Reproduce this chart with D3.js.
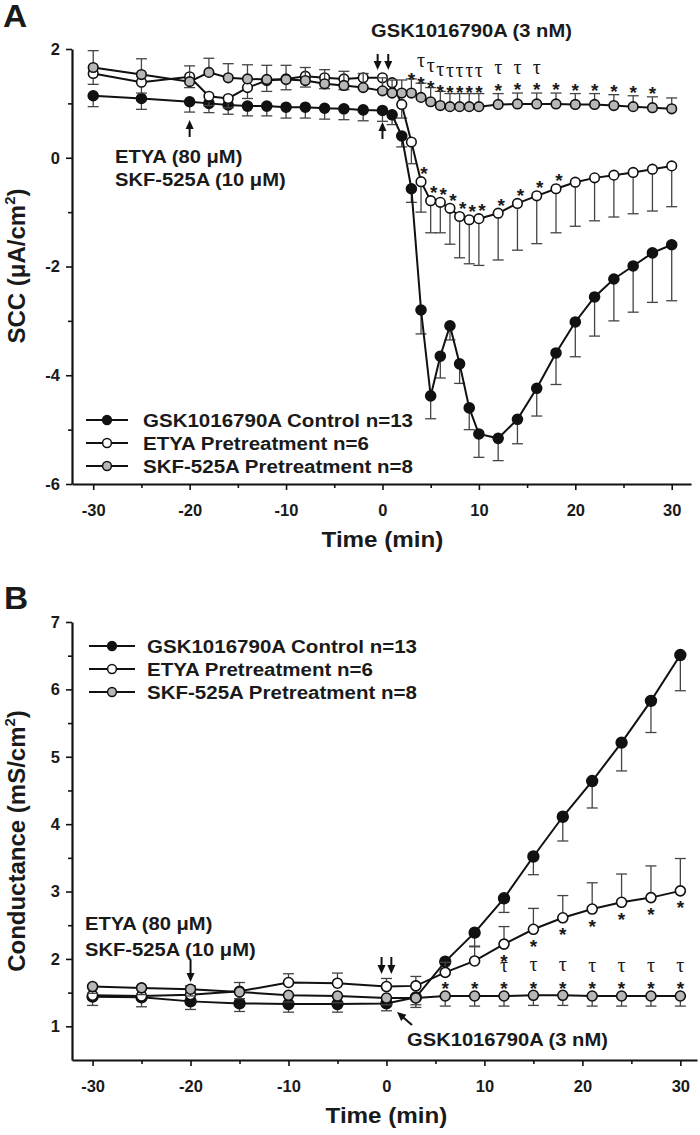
<!DOCTYPE html>
<html>
<head>
<meta charset="utf-8">
<script src="https://cdn.jsdelivr.net/npm/d3@7"></script>
<style>
  body { margin: 0; background: #fff; }
  text { font-family: "Liberation Sans", Arial, sans-serif; font-weight: bold; fill: #1a1a1a; }
</style>
</head>
<body>
<script>
// Panel A - short circuit current (uA/cm2)
var timeA = [-30,-25,-20,-18,-16,-14,-12,-10,-8,-6,-4,-2,0,1,2,3,4,5,6,7,8,9,10,12,14,16,18,20,22,24,26,28,30];
var sccControl    = [1.14,1.09,1.03,1.00,0.97,0.95,0.95,0.93,0.93,0.91,0.90,0.88,0.87,0.79,0.40,-0.57,-2.80,-4.38,-3.65,-3.09,-3.79,-4.60,-5.08,-5.16,-4.81,-4.24,-3.59,-3.02,-2.56,-2.23,-1.99,-1.75,-1.60];
var sccControlErr = [0.20,0.20,0.19,0.17,0.17,0.18,0.18,0.20,0.20,0.20,0.20,0.20,0.20,0.18,0.20,0.25,0.44,0.42,0.40,0.26,0.36,0.40,0.43,0.41,0.45,0.51,0.58,0.64,0.72,0.77,0.85,0.91,1.03];
var sccEtya       = [1.55,1.39,1.49,1.13,1.09,1.29,1.42,1.45,1.50,1.47,1.45,1.47,1.47,1.38,0.98,0.29,-0.44,-0.79,-0.82,-0.93,-1.08,-1.14,-1.12,-1.02,-0.84,-0.70,-0.57,-0.45,-0.37,-0.32,-0.27,-0.21,-0.15];
var sccEtyaErr    = [0.20,0.20,0.20,0.17,0.17,0.20,0.20,0.20,0.20,0.20,0.20,0.20,0.20,0.20,0.25,0.40,0.56,0.59,0.56,0.66,0.76,0.81,0.86,0.86,0.86,0.88,0.81,0.81,0.79,0.77,0.76,0.77,0.75];
var sccSkf        = [1.66,1.53,1.40,1.57,1.47,1.45,1.44,1.44,1.42,1.36,1.33,1.29,1.23,1.19,1.19,1.19,1.11,1.03,0.96,0.94,0.94,0.94,0.94,0.98,0.99,0.99,0.99,0.98,0.98,0.96,0.94,0.92,0.90];
var sccSkfErr     = [0.31,0.29,0.29,0.26,0.26,0.26,0.26,0.26,0.24,0.26,0.26,0.26,0.24,0.24,0.24,0.26,0.26,0.26,0.26,0.24,0.24,0.24,0.24,0.20,0.20,0.20,0.20,0.20,0.20,0.20,0.20,0.20,0.20];
var starSkfA  = [3,4,5,6,7,8,9,10,12,14,16,18,20,22,24,26,28];
var tauSkfA   = [4,5,6,7,8,9,10,12,14,16];
var starEtyaA = [4,5,6,7,8,9,10,12,14,16,18];

// Panel B - conductance (mS/cm2)
var timeB = [-30,-25,-20,-15,-10,-5,0,3,6,9,12,15,18,21,24,27,30];
var gtControl    = [1.44,1.43,1.37,1.34,1.33,1.33,1.34,1.43,1.96,2.39,2.90,3.52,4.11,4.64,5.21,5.83,6.51];
var gtControlErr = [0.13,0.14,0.12,0.12,0.12,0.12,0.11,0.15,0.15,0.20,0.21,0.27,0.36,0.40,0.42,0.47,0.53];
var gtEtya       = [1.46,1.45,1.47,1.52,1.65,1.64,1.59,1.60,1.80,1.97,2.22,2.44,2.61,2.74,2.84,2.91,3.01];
var gtEtyaErr    = [0.13,0.13,0.13,0.13,0.13,0.15,0.12,0.14,0.15,0.21,0.26,0.31,0.33,0.39,0.42,0.47,0.48];
var gtSkf        = [1.59,1.57,1.55,1.51,1.46,1.45,1.42,1.42,1.45,1.45,1.45,1.46,1.46,1.45,1.45,1.45,1.45];
var gtSkfErr     = [0.10,0.10,0.10,0.10,0.10,0.10,0.10,0.10,0.15,0.15,0.15,0.15,0.15,0.15,0.15,0.15,0.15];
var starSkfB  = [6,9,12,15,18,21,24,27,30];
var tauSkfB   = [12,15,18,21,24,27,30];
var starEtyaB = [12,15,18,21,24,27,30];

var legendNames = ["GSK1016790A Control n=13", "ETYA Pretreatment n=6", "SKF-525A Pretreatment n=8"];
var xMajor = [-30,-20,-10,0,10,20,30];
var xMinor = [-25,-15,-5,5,15,25];
var yMajorA = [2,0,-2,-4,-6], yMinorA = [1,-1,-3,-5];
var yMajorB = [1,2,3,4,5,6,7], yMinorB = [1.5,2.5,3.5,4.5,5.5,6.5];

var fills = ["#111", "#fff", "#b7b7b7"];

var svg = d3.select("body").append("svg")
    .attr("width", 700)
    .attr("height", 1135);

var xA = d3.scaleLinear().domain([-32.2, 32]).range([72, 691]);
var yA = d3.scaleLinear().domain([-6, 2]).range([484, 49]);
var xB = d3.scaleLinear().domain([-32.1, 31.7]).range([72, 697]);
var yB = d3.scaleLinear().domain([0.5, 7]).range([1060, 622]);

// stretched bold label (figure text is a bit wider than Arial)
function label(str, x, y, size, anchor, sx) {
  return svg.append("text")
      .attr("transform", "translate(" + x + "," + y + ") scale(" + (sx || 1.12) + ",1)")
      .attr("font-size", size)
      .attr("text-anchor", anchor || "start")
      .text(str);
}

function drawAxes(x, y, yMajor, yMinor) {
  var y0 = y.range()[0];
  var fmt = function(d) { return String(d); };

  svg.append("g").attr("transform", "translate(0," + y0 + ")")
      .call(d3.axisBottom(x).tickValues(xMinor).tickSize(4).tickFormat(""))
      .call(function(g) { g.select(".domain").remove(); });
  var gx = svg.append("g").attr("transform", "translate(0," + y0 + ")")
      .call(d3.axisBottom(x).tickValues(xMajor).tickSize(6).tickSizeOuter(0).tickPadding(14).tickFormat(fmt));

  svg.append("g").attr("transform", "translate(72,0)")
      .call(d3.axisLeft(y).tickValues(yMinor).tickSize(4).tickFormat(""))
      .call(function(g) { g.select(".domain").remove(); });
  var gy = svg.append("g").attr("transform", "translate(72,0)")
      .call(d3.axisLeft(y).tickValues(yMajor).tickSize(6).tickSizeOuter(0).tickPadding(6).tickFormat(fmt));

  svg.selectAll(".tick line").attr("stroke", "#111").attr("stroke-width", 1.6);
  svg.selectAll(".domain").attr("stroke", "#111").attr("stroke-width", 2.2);
  gx.selectAll("text").style("font-size", "16.5px");
  gy.selectAll("text").style("font-size", "16.5px");
}

function drawSeries(x, y, times, vals, errs, dir, fill, r) {
  var g = svg.append("g");
  g.selectAll(".err").data(vals).join("line").attr("class", "err")
      .attr("x1", function(d, i) { return x(times[i]); })
      .attr("x2", function(d, i) { return x(times[i]); })
      .attr("y1", function(d) { return y(d); })
      .attr("y2", function(d, i) { return y(d + dir * errs[i]); })
      .attr("stroke", "#444").attr("stroke-width", 1.3);
  g.selectAll(".cap").data(vals).join("line").attr("class", "cap")
      .attr("x1", function(d, i) { return x(times[i]) - 5.5; })
      .attr("x2", function(d, i) { return x(times[i]) + 5.5; })
      .attr("y1", function(d, i) { return y(d + dir * errs[i]); })
      .attr("y2", function(d, i) { return y(d + dir * errs[i]); })
      .attr("stroke", "#444").attr("stroke-width", 1.3);
  g.append("path").datum(vals)
      .attr("d", d3.line().x(function(d, i) { return x(times[i]); }).y(function(d) { return y(d); }))
      .attr("fill", "none").attr("stroke", "#111").attr("stroke-width", 2);
  g.selectAll("circle").data(vals).join("circle")
      .attr("cx", function(d, i) { return x(times[i]); })
      .attr("cy", function(d) { return y(d); })
      .attr("r", r)
      .attr("fill", fill).attr("stroke", "#111").attr("stroke-width", 1.6);
}

// asterisks / tau marks placed relative to a series point
function marks(x, y, times, vals, which, sym, dx, dy, serif) {
  which.forEach(function(t) {
    var i = times.indexOf(t);
    svg.append("text")
        .attr("x", x(t) + dx)
        .attr("y", y(vals[i]) + dy)
        .attr("text-anchor", "middle")
        .attr("font-size", serif ? 20 : 19)
        .style("font-family", serif ? "'Liberation Serif', 'DejaVu Serif', serif" : null)
        .style("font-weight", serif ? "normal" : null)
        .text(sym);
  });
}

function arrow(x1, y1, x2, y2) {
  var a = Math.atan2(y2 - y1, x2 - x1), L = 9, W = 4;
  svg.append("line").attr("x1", x1).attr("y1", y1)
      .attr("x2", x2 - Math.cos(a) * 6).attr("y2", y2 - Math.sin(a) * 6)
      .attr("stroke", "#111").attr("stroke-width", 2);
  var bx = x2 - Math.cos(a) * L, by = y2 - Math.sin(a) * L;
  svg.append("path")
      .attr("d", "M" + x2 + "," + y2 +
                 "L" + (bx - Math.sin(a) * W) + "," + (by + Math.cos(a) * W) +
                 "L" + (bx + Math.sin(a) * W) + "," + (by - Math.cos(a) * W) + "Z")
      .attr("fill", "#111");
}

function legend(rows, x0, x1, xt) {
  legendNames.forEach(function(name, i) {
    svg.append("line").attr("x1", x0).attr("x2", x1).attr("y1", rows[i]).attr("y2", rows[i])
        .attr("stroke", "#111").attr("stroke-width", 2);
    svg.append("circle").attr("cx", (x0 + x1) / 2).attr("cy", rows[i]).attr("r", 4.4)
        .attr("fill", fills[i]).attr("stroke", "#111").attr("stroke-width", 1.5);
    label(name, xt, rows[i] + 7, 19, "start", 1.08);
  });
}

function yTitle(x, y, main, tail) {
  var t = svg.append("text")
      .attr("transform", "translate(" + x + "," + y + ") rotate(-90)")
      .attr("text-anchor", "middle")
      .attr("font-size", 24);
  t.append("tspan").text(main);
  t.append("tspan").attr("font-size", 15).attr("dy", -10).text("2");
  t.append("tspan").attr("dy", 10).text(tail);
}

// ---------- Panel A ----------
drawAxes(xA, yA, yMajorA, yMinorA);
drawSeries(xA, yA, timeA, sccControl, sccControlErr, -1, fills[0], 5);
drawSeries(xA, yA, timeA, sccEtya, sccEtyaErr, -1, fills[1], 4.8);
drawSeries(xA, yA, timeA, sccSkf, sccSkfErr, 1, fills[2], 4.8);

marks(xA, yA, timeA, sccSkf, starSkfA, "*", 0, -7.5);
marks(xA, yA, timeA, sccSkf, tauSkfA, "τ", 0, -30, true);
marks(xA, yA, timeA, sccEtya, starEtyaA, "*", 3, -1.5);

label("A", 3, 27, 31, "start", 1.08);
label("GSK1016790A (3 nM)", 371, 37, 18);
arrow(xA(-0.5), 54, xA(-0.5), 70);
arrow(xA(0.6), 54, xA(0.6), 70);
arrow(xA(0), 139, xA(0), 122);
arrow(xA(-20), 137, xA(-20), 120);
label("ETYA (80 μM)", 115, 163, 18);
label("SKF-525A (10 μM)", 115, 186, 18);

legend([420, 443, 466], 86, 128, 143);
label("Time (min)", xA(0), 547, 22, "middle", 1.1);
yTitle(25, 266, "SCC (μA/cm", ")");

// ---------- Panel B ----------
drawAxes(xB, yB, yMajorB, yMinorB);
drawSeries(xB, yB, timeB, gtControl, gtControlErr, -1, fills[0], 5.4);
drawSeries(xB, yB, timeB, gtEtya, gtEtyaErr, 1, fills[1], 5);
drawSeries(xB, yB, timeB, gtSkf, gtSkfErr, -1, fills[2], 5);

marks(xB, yB, timeB, gtSkf, starSkfB, "*", 0, -0.5);
marks(xB, yB, timeB, gtSkf, tauSkfB, "τ", 0, -24, true);
marks(xB, yB, timeB, gtEtya, starEtyaB, "*", 0, 23.5);

label("B", 4, 609, 31, "start", 1.08);
label("ETYA (80 μM)", 85, 930, 18);
label("SKF-525A (10 μM)", 85, 956, 18);
arrow(xB(-20), 960, xB(-20), 982);
arrow(xB(-0.5), 957, xB(-0.5), 974);
arrow(xB(0.5), 957, xB(0.5), 974);
arrow(412, 1025, 397, 1012);
label("GSK1016790A (3 nM)", 407, 1046, 18);

legend([646, 669, 692], 89, 135, 147);
label("Time (min)", xB(0), 1123, 22, "middle", 1.1);
yTitle(25, 841, "Conductance (mS/cm", ")");
</script>
</body>
</html>
